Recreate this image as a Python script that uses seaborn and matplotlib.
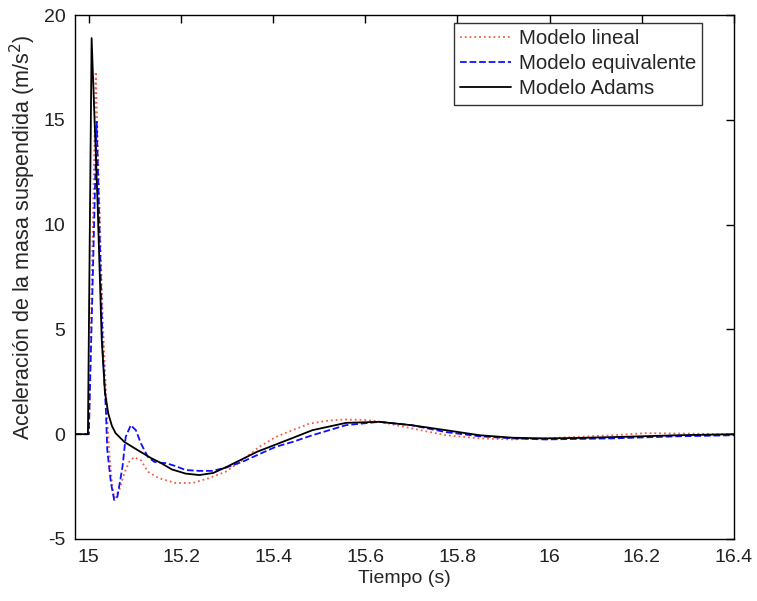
import matplotlib
matplotlib.use("Agg")
import matplotlib.pyplot as plt
import seaborn as sns
import pandas as pd

# Modelo lineal
t_lineal = [14.97, 15.0, 15.015, 15.03, 15.04, 15.044, 15.05, 15.055, 15.066, 15.077,
            15.088, 15.098, 15.113, 15.128, 15.152, 15.188, 15.225, 15.26, 15.297, 15.333,
            15.37, 15.406, 15.442, 15.478, 15.52, 15.558, 15.6, 15.63, 15.70, 15.775,
            15.848, 15.92, 15.99, 16.137, 16.21, 16.4]
a_lineal = [0, 0, 17.3, 5.5, 0.67, -0.76, -2.3, -3.05, -2.67, -1.86,
            -1.3, -1.1, -1.24, -1.79, -2.1, -2.33, -2.33, -2.1, -1.79, -1.24,
            -0.6, -0.13, 0.19, 0.5, 0.65, 0.7, 0.68, 0.6, 0.28, -0.05,
            -0.2, -0.25, -0.2, -0.05, 0.05, 0.0]

# Modelo equivalente
t_equiv = [14.97, 15.0, 15.017, 15.03, 15.037, 15.04, 15.048, 15.055, 15.062, 15.073,
           15.08, 15.091, 15.102, 15.113, 15.128, 15.142, 15.157, 15.167, 15.188, 15.21,
           15.239, 15.268, 15.297, 15.333, 15.37, 15.406, 15.442, 15.485, 15.558, 15.63,
           15.70, 15.775, 15.848, 15.92, 15.99, 16.137, 16.28, 16.4]
a_equiv = [0, 0, 14.9, 4.0, 1.14, -0.76, -2.33, -3.14, -2.98, -1.56,
           -0.13, 0.43, 0.19, -0.44, -1.08, -1.32, -1.37, -1.38, -1.52, -1.71,
           -1.75, -1.75, -1.6, -1.32, -0.95, -0.6, -0.37, -0.05, 0.43, 0.59,
           0.43, 0.1, -0.1, -0.2, -0.25, -0.2, -0.1, -0.05]

# Modelo Adams
t_adams = [14.97, 14.998, 15.006, 15.019, 15.028, 15.035, 15.042, 15.05, 15.058, 15.077,
           15.106, 15.135, 15.157, 15.18, 15.21, 15.24, 15.27, 15.3, 15.365, 15.413,
           15.44, 15.485, 15.558, 15.63, 15.70, 15.775, 15.848, 15.92, 15.99, 16.06,
           16.137, 16.28, 16.4]
a_adams = [0, 0, 18.9, 11, 4.5, 2.0, 1.0, 0.4, 0.05, -0.37,
           -0.76, -1.14, -1.38, -1.68, -1.88, -1.95, -1.85, -1.55, -0.84, -0.43,
           -0.2, 0.19, 0.54, 0.59, 0.43, 0.19, -0.05, -0.17, -0.2, -0.18,
           -0.14, -0.05, 0.0]

x_ticks = [15, 15.2, 15.4, 15.6, 15.8, 16, 16.2, 16.4]
x_tick_labels = ["15", "15.2", "15.4", "15.6", "15.8", "16", "16.2", "16.4"]
y_ticks = [-5, 0, 5, 10, 15, 20]

sns.set_style("white")
plt.rcParams["font.family"] = ["Liberation Sans", "DejaVu Sans"]
plt.rcParams["axes.unicode_minus"] = False

fig = plt.figure(figsize=(7.57, 6.01), dpi=100)
ax = fig.add_axes([0.0991, 0.1032, 0.8705, 0.8718])

series = [
    ("Modelo lineal", t_lineal, a_lineal, "#f0604a", ":", 1.3),
    ("Modelo equivalente", t_equiv, a_equiv, "#1010ff", "--", 1.3),
    ("Modelo Adams", t_adams, a_adams, "black", "-", 1.3),
]
for name, t, a, color, ls, lw in series:
    df = pd.DataFrame({"t": t, "a": a})
    sns.lineplot(data=df, x="t", y="a", ax=ax, color=color, linestyle=ls,
                 linewidth=lw, estimator=None, sort=False, label=name)

ax.set_xlim(14.97, 16.4)
ax.set_ylim(-5, 20)
ax.set_xticks(x_ticks)
ax.set_xticklabels(x_tick_labels)
ax.set_yticks(y_ticks)
ax.tick_params(direction="in", length=6, width=1, top=True, right=True,
               labelsize=14, pad=7, colors="black")
ax.tick_params(axis="both", labelcolor="#222222")
for sp in ax.spines.values():
    sp.set_visible(True)
    sp.set_color("black")
    sp.set_linewidth(1.0)

ax.set_xlabel("Tiempo (s)", fontsize=14, labelpad=3)
ax.set_ylabel("Aceleración de la masa suspendida (m/s$^2$)", fontsize=15.5)
ax.yaxis.set_label_coords(-0.056, 0.576)

leg = ax.legend(loc="upper left", fontsize=14.8, frameon=True, fancybox=False,
                borderpad=0.3, labelspacing=0.3, handlelength=2.5,
                handletextpad=0.35, borderaxespad=0.0, bbox_to_anchor=(0.575, 0.985))
leg.get_frame().set_edgecolor("black")
leg.get_frame().set_linewidth(1.0)

fig.savefig("out.png", dpi=100)
